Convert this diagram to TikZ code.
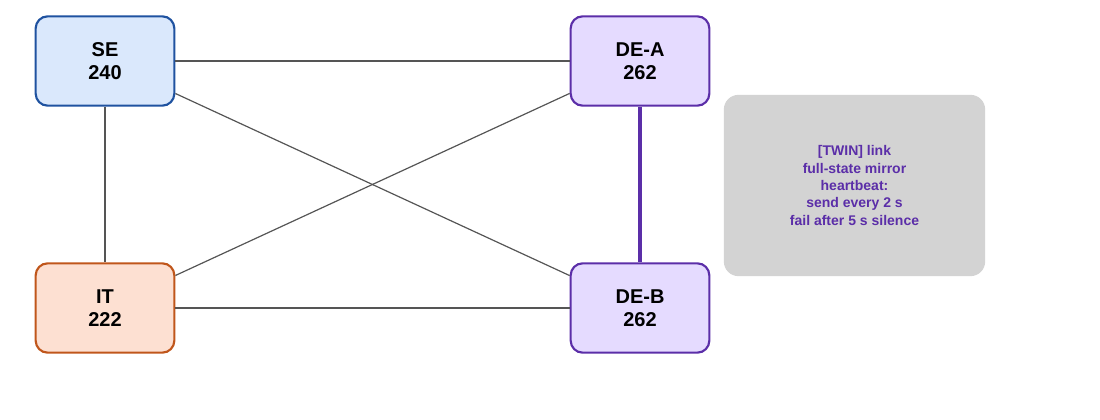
\documentclass[tikz,border=0pt]{standalone}
\usepackage{fontspec}
\setmainfont{Liberation Sans}
\usepackage{tikz}
\usetikzlibrary{positioning}
\definecolor{seFill}{HTML}{DAE8FC}
\definecolor{seDraw}{HTML}{1F52A0}
\definecolor{deFill}{HTML}{E5DBFF}
\definecolor{deDraw}{HTML}{5B2EA8}
\definecolor{itFill}{HTML}{FDE0D2}
\definecolor{itDraw}{HTML}{C0561B}
\definecolor{noteFill}{HTML}{D3D3D3}
\definecolor{linkGray}{HTML}{555555}

\begin{document}
\begin{tikzpicture}[
    x=0.75pt, y=-0.75pt,
    site/.style={rectangle, rounded corners=9pt, minimum width=104pt, minimum height=67pt, line width=1.6pt, align=center, font=\bfseries\fontsize{15}{17}\selectfont},
    link/.style={draw=linkGray, line width=0.9pt},
    twin/.style={draw=deDraw, line width=3pt}
]
\useasboundingbox (0,0) rectangle (1100,420);

% Nodes
\node (se) [site, draw=seDraw, fill=seFill] at (105,61) {SE\\240};
\node (dea) [site, draw=deDraw, fill=deFill] at (640,61) {DE-A\\262};
\node (it) [site, draw=itDraw, fill=itFill] at (105,308) {IT\\222};
\node (deb) [site, draw=deDraw, fill=deFill] at (640,308) {DE-B\\262};
\node (note) [rectangle, rounded corners=11pt, fill=noteFill, minimum width=196pt, minimum height=136pt, align=center, text=deDraw, font=\bfseries\fontsize{10.5}{13}\selectfont] at (854.5,185.5) {[TWIN] link\\full-state mirror\\heartbeat:\\send every 2 s\\fail after 5 s silence};

% Links
\draw [link] (se) -- (dea);
\draw [link] (se) -- (deb);
\draw [link] (se) -- (it);
\draw [link] (it) -- (dea);
\draw [link] (it) -- (deb);
\draw [twin] (dea) -- (deb);

\end{tikzpicture}
\end{document}
